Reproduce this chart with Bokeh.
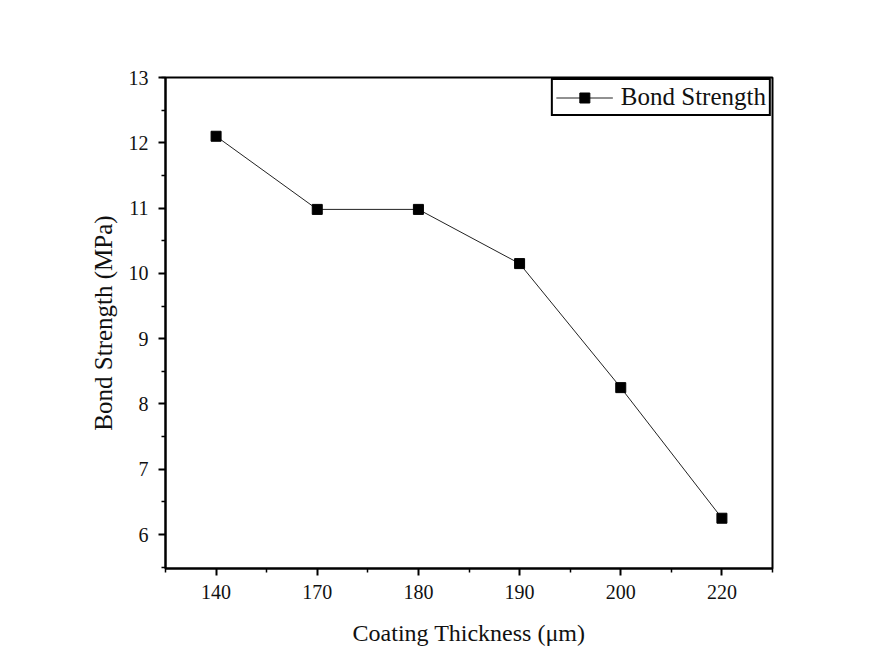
from bokeh.plotting import figure
from bokeh.models import FixedTicker, Range1d, Legend, LegendItem, ColumnDataSource
from bokeh.embed import file_html
from bokeh.resources import INLINE

thickness = ["140", "170", "180", "190", "200", "220"]
strength = [12.1, 10.98, 10.98, 10.15, 8.25, 6.25]
y_ticks = [6, 7, 8, 9, 10, 11, 12, 13]

idx = list(range(len(thickness)))
src = ColumnDataSource(dict(x=idx, y=strength))

FONT = "Liberation Serif"

p = figure(width=879, height=649, output_backend="svg", toolbar_location=None,
           x_range=Range1d(-0.5, len(thickness) - 0.5), y_range=Range1d(5.48, 13),
           min_border_left=165, min_border_top=77, min_border_right=107, min_border_bottom=81)

p.background_fill_color = "white"
p.border_fill_color = "white"
p.outline_line_color = "black"
p.outline_line_width = 2
p.grid.visible = False

r_line = p.line("x", "y", source=src, line_color="#222222", line_width=1)
r_mark = p.scatter("x", "y", source=src, marker="square", size=10,
                   fill_color="black", line_color="black")

xa = p.xaxis[0]
xa.ticker = FixedTicker(ticks=idx, minor_ticks=[i - 0.5 for i in range(len(thickness) + 1)])
xa.major_label_overrides = {i: t for i, t in enumerate(thickness)}
xa.axis_label = "Coating Thickness (μm)"

ya = p.yaxis[0]
ya.ticker = FixedTicker(ticks=y_ticks, minor_ticks=[t - 0.5 for t in y_ticks] + [13])
ya.axis_label = "Bond Strength (MPa)"

for ax in (xa, ya):
    ax.axis_line_width = 2
    ax.axis_line_color = "black"
    ax.major_tick_line_width = 2
    ax.minor_tick_line_width = 1.5
    ax.major_tick_out = 7
    ax.major_tick_in = 0
    ax.minor_tick_out = 4
    ax.minor_tick_in = 0
    ax.major_label_text_font = FONT
    ax.major_label_text_font_size = "20px"
    ax.major_label_text_color = "#111111"
    ax.axis_label_text_font = FONT
    ax.axis_label_text_font_style = "normal"
    ax.axis_label_text_color = "#111111"

xa.axis_label_text_font_size = "24px"
ya.axis_label_text_font_size = "25px"
xa.major_label_standoff = 9
xa.axis_label_standoff = 18
ya.major_label_standoff = 10
ya.axis_label_standoff = 9

legend = Legend(items=[LegendItem(label="Bond Strength", renderers=[r_line, r_mark])],
                location="top_right")
legend.label_text_font = FONT
legend.label_text_font_size = "25px"
legend.label_text_color = "#111111"
legend.border_line_color = "black"
legend.border_line_width = 2
legend.border_line_alpha = 1
legend.background_fill_alpha = 1
legend.glyph_width = 57
legend.glyph_height = 25
legend.label_standoff = 8
legend.padding = 3
legend.spacing = 0
legend.margin = 1
legend.label_height = 25
p.add_layout(legend)

open("out.html", "w").write(file_html(p, INLINE))
